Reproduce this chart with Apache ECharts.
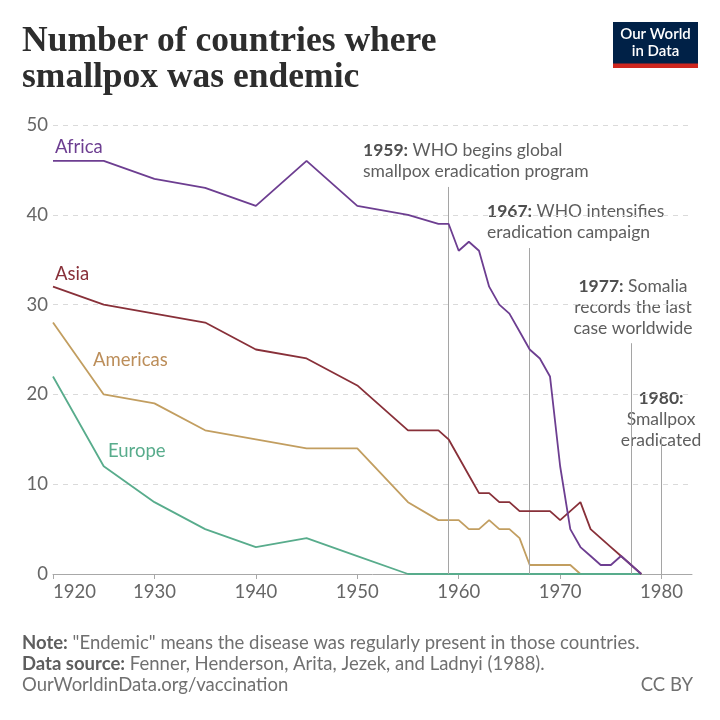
<!DOCTYPE html>
<html>
<head>
<meta charset="utf-8">
<script src="https://cdn.jsdelivr.net/npm/echarts@6/dist/echarts.min.js"></script>
<style>
html,body{margin:0;padding:0;background:#fff;}
#c{width:720px;height:720px;}
</style>
</head>
<body>
<div id="c"></div>
<script>
// ---- data ----
const years = [1920,1925,1930,1935,1940,1945,1950,1955,1958,1959,1960,1961,1962,1963,1964,1965,1966,1967,1968,1969,1970,1971,1972,1973,1974,1975,1976,1977,1978];
const africa   = [46,46,44,43,41,46,41,40,39,39,36,37,36,32,30,29,27,25,24,22,12,5,3,2,1,1,2,1,0];
const asia     = [32,30,29,28,25,24,21,16,16,15,13,11,9,9,8,8,7,7,7,7,6,7,8,5,4,3,2,1,0];
const americas = [28,20,19,16,15,14,14,8,6,6,6,5,5,6,5,5,4,1,1,1,1,1,0,0,0,0,0,0,0];
const europe   = [22,12,8,5,3,4,2,0,0,0,0,0,0,0,0,0,0,0,0,0,0,0,0,0,0,0,0,0,0];
const xTicks = [1920,1930,1940,1950,1960,1970,1980];
const eventYears = [1959,1967,1977,1980];
const eventTops  = [43.1,36.3,25.7,15.3];

const pair = (v) => years.map((y,i)=>[y,v[i]]);
const FONT = 'Lato, "Noto Sans", sans-serif';
const C = {africa:'#6D3E91', asia:'#883039', americas:'#C29E60', europe:'#58AC8C'};

const chart = echarts.init(document.getElementById('c'), null, {renderer:'canvas'});

const mkLine = (name, data, color, z) => ({
  name, type:'line', data: pair(data), showSymbol:false, symbol:'none',
  lineStyle:{color, width:1.8}, itemStyle:{color}, animation:false, silent:true,
  z: z
});

const eventSeries = {
  type:'line', data:[], silent:true, animation:false, z:2,
  markLine:{
    silent:true, animation:false,
    symbol:['none','circle'], symbolSize:[0,3],
    label:{show:false},
    lineStyle:{color:'#a5a5a5', width:1, type:'solid'},
    itemStyle:{color:'#555'},
    data: eventYears.map((y,i)=>[{coord:[y,0]},{coord:[y,eventTops[i]]}])
  }
};

const AF = 17.5;
const annText = (x, y, text, align) => ({
  type:'text', x, y, silent:true,
  style:{
    text, align: align||'left', verticalAlign:'top',
    font: AF + 'px ' + FONT, fill:'#5e5e5e', lineHeight:21,
    rich:{
      b:{font:'bold ' + AF + 'px ' + FONT, fill:'#4f4f4f', lineHeight:21},
    }
  }
});

const label = (x, y, text, color) => ({
  type:'text', x, y, silent:true,
  style:{text, font:'18.5px ' + FONT, fill:color, verticalAlign:'middle'}
});

const FF = 18.5;
const footText = (x, y, text, align) => ({
  type:'text', x, y, silent:true,
  style:{text, align: align||'left', verticalAlign:'middle', font: FF + 'px ' + FONT, fill:'#707070',
    rich:{b:{font:'bold ' + FF + 'px ' + FONT, fill:'#5e5e5e'}}}
});

const option = {
  backgroundColor:'#fff',
  animation:false,
  grid:{left:53, right:28, top:125, bottom:146, containLabel:false},
  xAxis:{
    type:'value', min:1920, max:1983,
    axisLine:{show:true, lineStyle:{color:'#a8a8a8', width:1}},
    axisTick:{show:true, length:5, customValues:xTicks, lineStyle:{color:'#a8a8a8'}},
    axisLabel:{customValues:xTicks, color:'#666', fontSize:18.5, fontFamily:FONT, margin:9,
      alignMinLabel:'left', formatter:(v)=>String(v)},
    splitLine:{show:false}
  },
  yAxis:{
    type:'value', min:0, max:50, interval:10,
    axisLine:{show:false}, axisTick:{show:false},
    axisLabel:{color:'#666', fontSize:18.5, fontFamily:FONT, margin:5},
    splitLine:{show:true, lineStyle:{color:'#dadada', type:[5,5], width:1}}
  },
  series:[
    mkLine('Americas', americas, C.americas, 3),
    mkLine('Europe', europe, C.europe, 4),
    mkLine('Asia', asia, C.asia, 5),
    mkLine('Africa', africa, C.africa, 6),
    eventSeries
  ],
  graphic:[
    {type:'text', x:22, y:41.5, silent:true, style:{text:'Number of countries where', font:'bold 35.5px "Liberation Serif", serif', fill:'#2d2d2d', verticalAlign:'middle'}},
    {type:'text', x:22, y:78, silent:true, style:{text:'smallpox was endemic', font:'bold 35.5px "Liberation Serif", serif', fill:'#2d2d2d', verticalAlign:'middle'}},
    {type:'rect', shape:{x:613, y:22, width:85, height:42}, style:{fill:'#002147'}, silent:true},
    {type:'rect', shape:{x:613, y:63.5, width:85, height:4.5}, style:{fill:'#ce261e'}, silent:true},
    {type:'text', x:655.5, y:43, silent:true, style:{text:'Our World\nin Data', font:'600 15px ' + FONT, fill:'#fff', align:'center', verticalAlign:'middle', lineHeight:17}},

    label(55, 147, 'Africa', C.africa),
    label(55, 274, 'Asia', C.asia),
    label(93, 360, 'Americas', '#BC8E5A'),
    label(108, 451.5, 'Europe', C.europe),

    annText(363, 140, '{b|1959:} WHO begins global\nsmallpox eradication program'),
    annText(487, 200.5, '{b|1967:} WHO intensifies\neradication campaign'),
    annText(633, 275.5, '{b|1977:} Somalia\nrecords the last\ncase worldwide', 'center'),
    annText(661, 387.5, '{b|1980:}\nSmallpox\neradicated', 'center'),

    footText(22, 643, '{b|Note:} "Endemic" means the disease was regularly present in those countries.'),
    footText(22, 664, '{b|Data source:} Fenner, Henderson, Arita, Jezek, and Ladnyi (1988).'),
    footText(22, 685.5, 'OurWorldinData.org/vaccination'),
    footText(693, 685.5, 'CC BY', 'right')
  ]
};
chart.setOption(option);
</script>
</body>
</html>
